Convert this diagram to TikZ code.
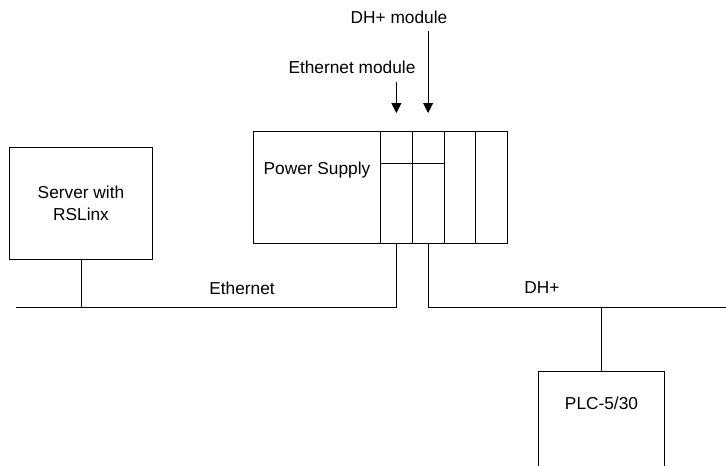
\documentclass[tikz,border=0pt]{standalone}
\usepackage{fontspec}
\setmainfont{Liberation Sans}
\usetikzlibrary{arrows.meta,positioning,calc}

\begin{document}
\begin{tikzpicture}[
  x=1pt, y=-1pt,
  unit/.style={draw, line width=1pt, inner sep=0pt, anchor=north west},
  lbl/.style={font=\fontsize{17.3}{22}\selectfont, inner sep=0pt, align=center},
  bus/.style={line width=1pt},
  pointer/.style={line width=1pt, -{Triangle[length=10pt,width=10pt]}}
]
  \useasboundingbox (0,0) rectangle (726,466);
  \clip (0,0) rectangle (726,466);

  % server
  \node[unit, lbl, minimum width=143pt, minimum height=112pt] (server) at (9,147) {Server with\\RSLinx};

  % rack
  \node[unit, minimum width=127pt, minimum height=112pt] (ps) at (253,131) {};
  \node[lbl] (pstext) at ($(ps.north)+(0,39)$) {Power Supply};
  \foreach \i in {1,...,4}
    \node[unit, minimum width=31.75pt, minimum height=112pt] (slot\i) at ({380+31.75*(\i-1)},131) {};
  \draw[bus] ([yshift=-32pt]slot1.north west) -- ([yshift=-32pt]slot2.north east);

  \node[lbl] (dhmod) at (399,17) {DH+ module};
  \node[lbl] (ethmod) at (352,67) {Ethernet module};
  \draw[pointer] ($(slot1.north |- ethmod.south)+(0,8)$) -- ($(slot1.north)+(0,-18)$);
  \draw[pointer] ($(slot2.north |- dhmod.south)+(0,7)$) -- ($(slot2.north)+(0,-18)$);

  % networks
  \coordinate (ethend) at (16,307);
  \coordinate (dhend) at (726,307);
  \draw[bus] (slot1.south) |- (ethend);
  \draw[bus] (slot2.south) |- (dhend);
  \draw[bus] (server.south) -- (server.south |- ethend);
  \node[lbl] (ethlbl) at (242,288) {Ethernet};
  \node[lbl] (dhlbl) at (542,288) {DH+};

  % plc
  \node[unit, minimum width=126pt, minimum height=120pt] (plc) at (538,371) {};
  \node[lbl] (plctext) at ($(plc.north)+(0,32)$) {PLC-5/30};
  \draw[bus] (plc.north) -- (plc.north |- dhend);
\end{tikzpicture}
\end{document}
